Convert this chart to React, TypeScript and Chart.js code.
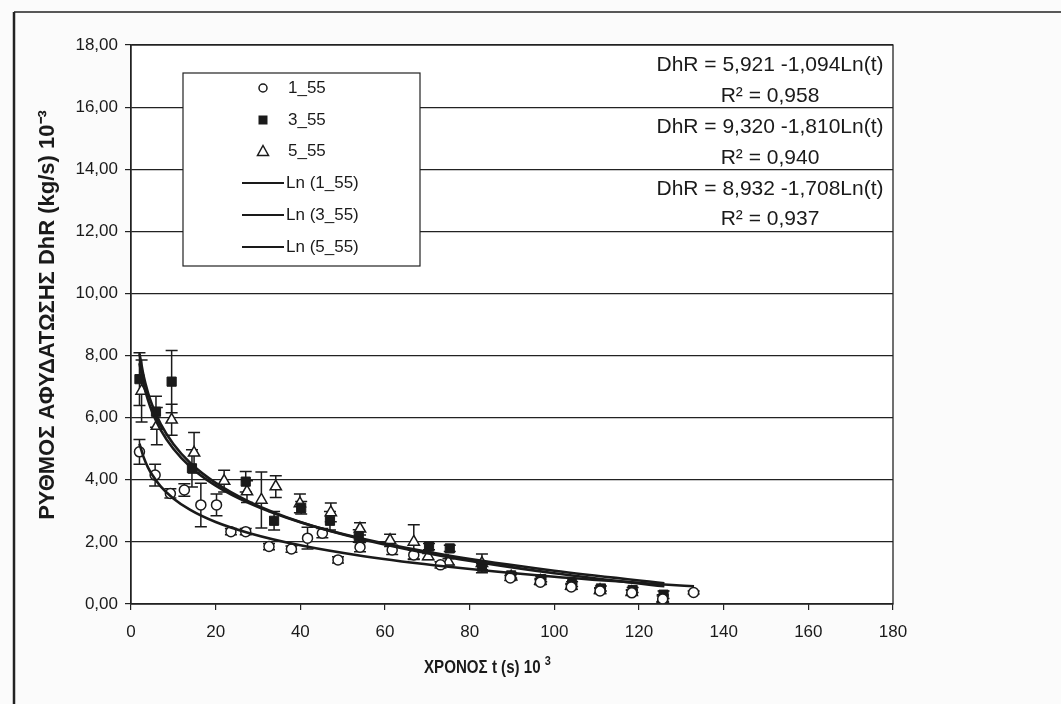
import React, { useEffect, useRef } from "react";
import { Chart, registerables } from "chart.js";

Chart.register(...registerables);

// ---------- data ----------
const xMin = 0;
const xMax = 180;
const xStep = 20;
const yMin = 0;
const yMax = 18;
const yStep = 2;

const seriesNames = ["1_55", "3_55", "5_55"];
const trendNames = ["Ln (1_55)", "Ln (3_55)", "Ln (5_55)"];

// 1_55 (open circles)
const t1 = [2.0, 5.7, 9.3, 12.6, 16.5, 20.2, 23.6, 27.1, 32.6, 37.9, 41.7, 45.2, 48.9, 54.1, 61.7, 66.8, 73.1, 89.6, 96.7, 104.0, 110.8, 118.3, 125.6, 132.9];
const v1 = [4.90, 4.15, 3.56, 3.67, 3.19, 3.19, 2.33, 2.33, 1.85, 1.77, 2.12, 2.28, 1.42, 1.83, 1.74, 1.58, 1.26, 0.84, 0.70, 0.55, 0.42, 0.36, 0.16, 0.37];
const e1 = [0.40, 0.35, 0.15, 0.20, 0.70, 0.35, 0.10, 0.10, 0.10, 0.10, 0.35, 0.15, 0.10, 0.15, 0.15, 0.15, 0.10, 0.08, 0.08, 0.08, 0.08, 0.08, 0.10, 0.05];

// 3_55 (filled squares)
const t3 = [2.0, 5.9, 9.6, 14.4, 27.1, 33.8, 40.2, 47.0, 53.8, 70.4, 75.3, 82.9, 89.8, 96.9, 104.2, 111.0, 118.5, 125.8];
const v3 = [7.24, 6.19, 7.16, 4.37, 3.94, 2.68, 3.10, 2.68, 2.19, 1.85, 1.79, 1.20, 0.92, 0.80, 0.64, 0.50, 0.45, 0.30];
const e3 = [0.85, 0.50, 1.00, 0.60, 0.33, 0.30, 0.20, 0.30, 0.20, 0.10, 0.10, 0.10, 0.08, 0.08, 0.08, 0.08, 0.08, 0.12];

// 5_55 (open triangles)
const t5 = [2.5, 6.1, 9.6, 14.9, 22.0, 27.4, 30.8, 34.2, 39.9, 47.2, 54.1, 61.2, 66.8, 70.2, 75.0, 82.9, 89.8, 96.7, 104.0, 110.8, 118.3, 125.6];
const v5 = [6.86, 5.73, 5.93, 4.87, 3.96, 3.62, 3.35, 3.78, 3.24, 2.95, 2.42, 2.05, 2.00, 1.53, 1.36, 1.31, 0.88, 0.74, 0.58, 0.44, 0.38, 0.18];
const e5 = [1.00, 0.60, 0.50, 0.65, 0.35, 0.35, 0.90, 0.35, 0.30, 0.30, 0.20, 0.20, 0.55, 0.10, 0.10, 0.30, 0.08, 0.08, 0.08, 0.08, 0.08, 0.12];

// logarithmic trend lines
const trendT1 = [2, 3, 4, 5, 7, 10, 14, 20, 28, 40, 55, 75, 100, 126, 133];
const trendV1 = [5.16, 4.72, 4.40, 4.16, 3.79, 3.40, 3.03, 2.64, 2.28, 1.89, 1.54, 1.20, 0.88, 0.63, 0.57];
const trendT35 = [2, 3, 4, 5, 7, 10, 14, 20, 28, 40, 55, 75, 100, 126];
const trendV3 = [8.07, 7.33, 6.81, 6.41, 5.80, 5.15, 4.54, 3.90, 3.29, 2.64, 2.07, 1.51, 0.99, 0.57];
const trendV5 = [7.75, 7.06, 6.57, 6.18, 5.61, 5.00, 4.42, 3.81, 3.24, 2.63, 2.09, 1.56, 1.07, 0.67];

const equations = ["DhR = 5,921 -1,094Ln(t)", "DhR = 9,320 -1,810Ln(t)", "DhR = 8,932 -1,708Ln(t)"];
const rSquared = ["R\u00B2 = 0,958", "R\u00B2 = 0,940", "R\u00B2 = 0,937"];

const xTitleMain = "ΧΡΟΝΟΣ t (s) 10";
const xTitleSup = "3";
const yTitle = "ΡΥΘΜΟΣ ΑΦΥΔΑΤΩΣΗΣ DhR (kg/s) 10\u207B\u00B3";

const FONT = "'Liberation Sans', Arial, Helvetica, sans-serif";
const INK = "#1a1a1a";

const toPts = (xs: number[], ys: number[]) => xs.map((x, i) => ({ x, y: ys[i] }));

function drawMarker(ctx: CanvasRenderingContext2D, kind: string, x: number, y: number) {
  ctx.save();
  ctx.lineWidth = 1.5;
  ctx.strokeStyle = INK;
  if (kind === "circle") {
    ctx.fillStyle = "#fff";
    ctx.beginPath();
    ctx.arc(x, y, 4, 0, Math.PI * 2);
    ctx.fill();
    ctx.stroke();
  } else if (kind === "rect") {
    ctx.fillStyle = INK;
    ctx.fillRect(x - 4.5, y - 4.5, 9, 9);
  } else {
    ctx.fillStyle = "#fff";
    ctx.beginPath();
    ctx.moveTo(x, y - 5.5);
    ctx.lineTo(x + 5.5, y + 4.5);
    ctx.lineTo(x - 5.5, y + 4.5);
    ctx.closePath();
    ctx.fill();
    ctx.stroke();
  }
  ctx.restore();
}

const errorSets = [
  { t: t1, v: v1, e: e1 },
  { t: t3, v: v3, e: e3 },
  { t: t5, v: v5, e: e5 },
];

const errorBarPlugin = {
  id: "errorBars",
  beforeDatasetsDraw(chart: any) {
    const { ctx, scales } = chart;
    const xs = scales.x;
    const ys = scales.y;
    ctx.save();
    ctx.strokeStyle = INK;
    ctx.lineWidth = 1.5;
    errorSets.forEach(({ t, v, e }) => {
      t.forEach((tt, i) => {
        const px = xs.getPixelForValue(tt);
        const top = ys.getPixelForValue(v[i] + e[i]);
        const bot = ys.getPixelForValue(Math.max(0, v[i] - e[i]));
        ctx.beginPath();
        ctx.moveTo(px, top);
        ctx.lineTo(px, bot);
        ctx.moveTo(px - 6, top);
        ctx.lineTo(px + 6, top);
        ctx.moveTo(px - 6, bot);
        ctx.lineTo(px + 6, bot);
        ctx.stroke();
      });
    });
    ctx.restore();
  },
};

const decorPlugin = {
  id: "decor",
  beforeDraw(chart: any) {
    const { ctx, width, height } = chart;
    ctx.save();
    ctx.fillStyle = "#fbfbfb";
    ctx.fillRect(0, 0, width, height);
    ctx.strokeStyle = "#222";
    ctx.lineWidth = 2.5;
    ctx.beginPath();
    ctx.moveTo(14, 12);
    ctx.lineTo(14, height);
    ctx.stroke();
    ctx.lineWidth = 1.5;
    ctx.beginPath();
    ctx.moveTo(14, 12);
    ctx.lineTo(width, 12);
    ctx.stroke();
    const a = chart.chartArea;
    ctx.fillStyle = "#ffffff";
    ctx.fillRect(a.left, a.top, a.right - a.left, a.bottom - a.top);
    ctx.restore();
  },
  afterDraw(chart: any) {
    const { ctx } = chart;
    const a = chart.chartArea;
    ctx.save();
    // plot border
    ctx.strokeStyle = "#222";
    ctx.lineWidth = 1.3;
    ctx.strokeRect(a.left, a.top, a.right - a.left, a.bottom - a.top);

    // legend box
    const lx = 183, ly = 73, lw = 237, lh = 193;
    ctx.fillStyle = "#ffffff";
    ctx.fillRect(lx, ly, lw, lh);
    ctx.lineWidth = 1.2;
    ctx.strokeRect(lx, ly, lw, lh);
    const rowY = [88, 120, 151, 183, 215, 247];
    const kinds = ["circle", "rect", "triangle"];
    ctx.font = `17px ${FONT}`;
    ctx.fillStyle = INK;
    ctx.textBaseline = "middle";
    ctx.textAlign = "left";
    seriesNames.forEach((n, i) => {
      drawMarker(ctx, kinds[i], 263, rowY[i]);
      ctx.fillStyle = INK;
      ctx.fillText(n, 288, rowY[i]);
    });
    trendNames.forEach((n, i) => {
      const y = rowY[i + 3];
      ctx.strokeStyle = INK;
      ctx.lineWidth = 2.2;
      ctx.beginPath();
      ctx.moveTo(242, y);
      ctx.lineTo(284, y);
      ctx.stroke();
      ctx.fillStyle = INK;
      ctx.fillText(n, 286, y);
    });

    // equations
    ctx.font = `21px ${FONT}`;
    ctx.textAlign = "center";
    const eqY = [65, 127, 189];
    const rY = [96, 158, 219];
    equations.forEach((eq, i) => {
      ctx.fillText(eq, 770, eqY[i]);
      ctx.fillText(rSquared[i], 770, rY[i]);
    });

    // x axis title (slightly condensed, as in the scan)
    ctx.save();
    ctx.translate(424, 668);
    ctx.scale(0.84, 1);
    ctx.font = `bold 18px ${FONT}`;
    ctx.textAlign = "left";
    ctx.fillText(xTitleMain, 0, 0);
    const w = ctx.measureText(xTitleMain + " ").width;
    ctx.font = `bold 13px ${FONT}`;
    ctx.fillText(xTitleSup, w, -7);
    ctx.restore();

    // y axis title
    ctx.save();
    ctx.translate(48, 315);
    ctx.rotate(-Math.PI / 2);
    ctx.font = `bold 22px ${FONT}`;
    ctx.textAlign = "center";
    ctx.fillText(yTitle, 0, 0);
    ctx.restore();
    ctx.restore();
  },
};

export default function App() {
  const ref = useRef<HTMLCanvasElement | null>(null);

  useEffect(() => {
    if (!ref.current) return;
    const lineDs = (label: string, xs: number[], ys: number[]) => ({
      type: "line" as const,
      label,
      data: toPts(xs, ys),
      borderColor: INK,
      borderWidth: 2.6,
      pointRadius: 0,
      fill: false,
      cubicInterpolationMode: "monotone" as const,
    });
    const chart = new Chart(ref.current, {
      type: "scatter",
      data: {
        datasets: [
          lineDs(trendNames[0], trendT1, trendV1),
          lineDs(trendNames[1], trendT35, trendV3),
          lineDs(trendNames[2], trendT35, trendV5),
          {
            label: seriesNames[0],
            data: toPts(t1, v1),
            pointStyle: "circle",
            pointRadius: 5,
            pointBackgroundColor: "#fff",
            pointBorderColor: INK,
            pointBorderWidth: 1.5,
          },
          {
            label: seriesNames[1],
            data: toPts(t3, v3),
            pointStyle: "rect",
            pointRadius: 6.5,
            pointBackgroundColor: INK,
            pointBorderColor: INK,
            pointBorderWidth: 1,
          },
          {
            label: seriesNames[2],
            data: toPts(t5, v5),
            pointStyle: "triangle",
            pointRadius: 6.5,
            pointBackgroundColor: "#fff",
            pointBorderColor: INK,
            pointBorderWidth: 1.5,
          },
        ] as any,
      },
      options: {
        responsive: false,
        animation: false,
        devicePixelRatio: 1,
        layout: { padding: { left: 0, top: 45, right: 168, bottom: 0 } },
        plugins: {
          legend: { display: false },
          tooltip: { enabled: false },
          title: { display: false },
        },
        scales: {
          x: {
            type: "linear",
            min: xMin,
            max: xMax,
            afterFit: (s: any) => {
              s.height = 100;
            },
            ticks: {
              stepSize: xStep,
              color: INK,
              padding: 12,
              font: { family: FONT, size: 17 },
            },
            grid: {
              drawOnChartArea: false,
              drawTicks: true,
              tickLength: 6,
              color: "#222",
              lineWidth: 1.2,
            },
            border: { display: true, color: "#222", width: 1.3 },
          },
          y: {
            type: "linear",
            min: yMin,
            max: yMax,
            afterFit: (s: any) => {
              s.width = 131;
            },
            ticks: {
              stepSize: yStep,
              color: INK,
              padding: 7,
              font: { family: FONT, size: 17 },
              callback: (v: any) => Number(v).toFixed(2).replace(".", ","),
            },
            grid: {
              color: "#222",
              lineWidth: 1.2,
              tickLength: 6,
            },
            border: { display: true, color: "#222", width: 1.3 },
          },
        },
      } as any,
      plugins: [decorPlugin, errorBarPlugin],
    });
    return () => chart.destroy();
  }, []);

  return (
    <div style={{ position: "absolute", left: 0, top: 0, width: 1061, height: 704 }}>
      <canvas ref={ref} width={1061} height={704} style={{ display: "block" }} />
    </div>
  );
}
